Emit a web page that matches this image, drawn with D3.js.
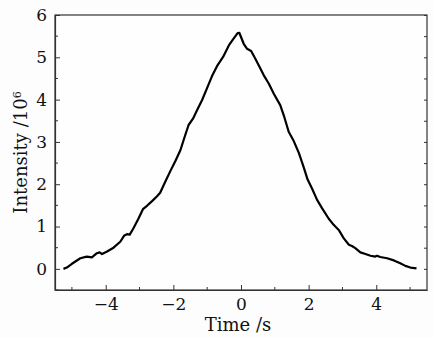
<!DOCTYPE html>
<html>
<head>
<meta charset="utf-8">
<script src="https://cdn.jsdelivr.net/npm/d3@7"></script>
<style>
  body { margin: 0; background: #fdfdfd; }
  .axis path, .axis line { stroke: #333; }
  .axis text { font-family: "DejaVu Serif", serif; font-size: 17px; fill: #111; }
  .label { font-family: "DejaVu Serif", serif; font-size: 18px; fill: #111; }
</style>
</head>
<body>
<svg id="chart"></svg>
<script>
// time (s) and intensity (x10^6)
const timeValues = [-5.25, -5.15, -5.0, -4.75, -4.56, -4.41, -4.26, -4.18, -4.11, -3.96, -3.77, -3.57,
    -3.45, -3.37, -3.29, -3.18, -3.03, -2.90, -2.78, -2.63, -2.49, -2.39, -2.24, -2.09, -1.94,
    -1.79, -1.67, -1.55, -1.42, -1.30, -1.15, -1.01, -0.86, -0.71, -0.53, -0.36, -0.22, -0.10,
    -0.05, 0.0, 0.08, 0.18, 0.30, 0.42, 0.55, 0.67, 0.82, 0.97, 1.16, 1.28, 1.41, 1.56, 1.71,
    1.85, 1.97, 2.10, 2.25, 2.40, 2.59, 2.74, 2.89, 3.04, 3.19, 3.28, 3.38, 3.53, 3.68, 3.83,
    3.97, 4.02, 4.12, 4.32, 4.52, 4.71, 4.86, 5.01, 5.19];
const intensityValues = [0.0, 0.03, 0.12, 0.25, 0.29, 0.27, 0.37, 0.39, 0.35, 0.41, 0.50, 0.64,
    0.79, 0.82, 0.81, 0.96, 1.19, 1.41, 1.49, 1.60, 1.71, 1.80, 2.06, 2.31, 2.55,
    2.81, 3.11, 3.40, 3.55, 3.75, 3.99, 4.26, 4.55, 4.79, 5.01, 5.28, 5.44, 5.57,
    5.58, 5.48, 5.32, 5.20, 5.15, 4.97, 4.77, 4.58, 4.38, 4.14, 3.87, 3.59, 3.24, 3.02, 2.74,
    2.41, 2.11, 1.90, 1.63, 1.43, 1.19, 1.04, 0.92, 0.72, 0.57, 0.54, 0.49, 0.39, 0.35, 0.31,
    0.29, 0.31, 0.28, 0.25, 0.20, 0.13, 0.07, 0.03, 0.01];
const xTicks = [-4, -2, 0, 2, 4];
const xMinorTicks = [-5, -3, -1, 1, 3, 5];
const yTicks = [0, 1, 2, 3, 4, 5, 6];
const yMinorTicks = [-0.5, 0.5, 1.5, 2.5, 3.5, 4.5, 5.5];

const width = 433, height = 338;
const margin = { top: 15, right: 6, bottom: 48, left: 55 };
const innerW = width - margin.left - margin.right;
const innerH = height - margin.top - margin.bottom;

const svg = d3.select('#chart').attr('width', width).attr('height', height);
const chart = svg.append('g').attr('transform', `translate(${margin.left},${margin.top})`);

const x = d3.scaleLinear().domain([-5.5, 5.5]).range([0, innerW]);
const y = d3.scaleLinear().domain([-0.5, 6]).range([innerH, 0]);

// frame
chart.append('rect')
    .attr('width', innerW).attr('height', innerH)
    .attr('fill', '#fefefe').attr('stroke', '#333').attr('stroke-width', 1.2);

// bottom axis, ticks inward
const xAxisG = chart.append('g').attr('class', 'axis')
    .attr('transform', `translate(0,${innerH})`)
    .call(d3.axisBottom(x).tickValues(xTicks).tickSizeInner(-5).tickSizeOuter(0).tickPadding(8));
xAxisG.append('g').selectAll('line').data(xMinorTicks).join('line')
    .attr('x1', d => x(d)).attr('x2', d => x(d)).attr('y1', 0).attr('y2', -3);

// left axis
const yAxisG = chart.append('g').attr('class', 'axis')
    .call(d3.axisLeft(y).tickValues(yTicks).tickFormat(d3.format('d'))
        .tickSizeInner(-5).tickSizeOuter(0).tickPadding(8));
yAxisG.append('g').selectAll('line').data(yMinorTicks).join('line')
    .attr('x1', 0).attr('x2', 3).attr('y1', d => y(d)).attr('y2', d => y(d));

// faint right-side ticks
chart.append('g').attr('class', 'axis')
    .attr('transform', `translate(${innerW},0)`)
    .call(d3.axisRight(y).tickValues(yTicks.concat(yMinorTicks)).tickSizeInner(-3).tickSizeOuter(0).tickFormat(''))
    .select('.domain').remove();

chart.selectAll('.axis .domain').attr('stroke-width', 1.2);

// the curve
const line = d3.line()
    .x((d, i) => x(timeValues[i]))
    .y(d => y(d));
chart.append('path')
    .datum(intensityValues)
    .attr('fill', 'none')
    .attr('stroke', '#000')
    .attr('stroke-width', 2.2)
    .attr('stroke-linejoin', 'round')
    .attr('d', line);

// axis labels
svg.append('text').attr('class', 'label')
    .attr('x', margin.left + x(0) - 3).attr('y', 331)
    .attr('text-anchor', 'middle')
    .text('Time /s');

const yLabel = svg.append('text').attr('class', 'label')
    .attr('transform', `translate(27,${margin.top + innerH / 2}) rotate(-90)`)
    .attr('text-anchor', 'middle');
yLabel.append('tspan').text('Intensity /10');
yLabel.append('tspan').attr('dy', '-0.55em').style('font-size', '11px').text('6');
</script>
</body>
</html>
